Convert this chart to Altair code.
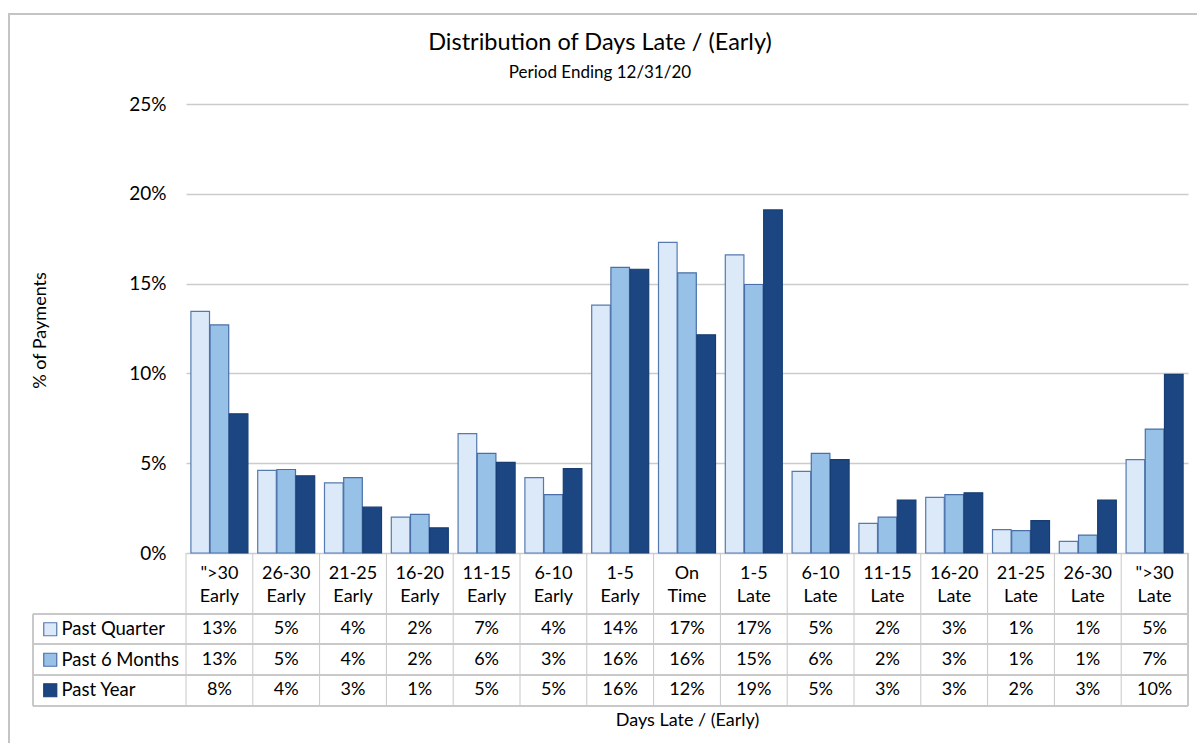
import altair as alt
import pandas as pd

# Payment-timing buckets (label words split onto two lines at the space)
categories = [
    '">30 Early', "26-30 Early", "21-25 Early", "16-20 Early", "11-15 Early",
    "6-10 Early", "1-5 Early", "On Time", "1-5 Late", "6-10 Late",
    "11-15 Late", "16-20 Late", "21-25 Late", "26-30 Late", '">30 Late',
]
series = ["Past Quarter", "Past 6 Months", "Past Year"]

# Share of payments (%) per bucket
past_quarter = [13.45, 4.6, 3.9, 2.0, 6.65, 4.2, 13.8, 17.3, 16.6, 4.55, 1.65, 3.1, 1.3, 0.65, 5.2]
past_6_months = [12.7, 4.65, 4.2, 2.15, 5.55, 3.25, 15.9, 15.6, 14.95, 5.55, 2.0, 3.25, 1.25, 1.0, 6.9]
past_year = [7.75, 4.3, 2.55, 1.4, 5.05, 4.7, 15.8, 12.15, 19.1, 5.2, 2.95, 3.35, 1.8, 2.95, 9.95]

fills = ["#dce9f8", "#97c1e7", "#1c4682"]
strokes = ["#557aaf", "#4a6fa8", "#173d73"]

rows = []
for name, vals in zip(series, [past_quarter, past_6_months, past_year]):
    for cat, v in zip(categories, vals):
        rows.append({"category": cat, "series": name, "value": v})
df = pd.DataFrame(rows)
cat_df = pd.DataFrame({"category": categories})

W, H = 1002, 449
FONT = "Lato"
FS = 18
GRID = "#cccccc"
TABLE = "#c8c8c8"

x_enc = alt.X(
    "category:N",
    sort=categories,
    scale=alt.Scale(paddingInner=0, paddingOuter=0),
    axis=alt.Axis(
        labels=False, ticks=False, domain=False, grid=False,
        title="Days Late / (Early)", titleY=167, titleBaseline="middle",
        titleFontSize=18, titleFontWeight="normal", titleColor="#000000",
    ),
)

bars = alt.Chart(df).mark_bar(strokeWidth=1.2).encode(
    x=x_enc,
    xOffset=alt.XOffset("series:N", sort=series,
                        scale=alt.Scale(paddingInner=0.03, paddingOuter=0.255)),
    y=alt.Y(
        "value:Q",
        scale=alt.Scale(domain=[0, 25], nice=False),
        axis=alt.Axis(
            values=[0, 5, 10, 15, 20, 25], labelExpr="datum.value + '%'",
            grid=True, gridColor=GRID, gridWidth=1.3, domain=False, ticks=False,
            labelFontSize=19, labelPadding=20, labelColor="#000000",
            title="% of Payments", titleFontSize=18, titleFontWeight="normal",
            titleColor="#000000", titleX=-146, titleY=226, titleAngle=-90,
            titleBaseline="middle", titleAlign="center",
        ),
    ),
    color=alt.Color(
        "series:N", sort=series,
        scale=alt.Scale(domain=series, range=fills),
        legend=alt.Legend(
            orient="none", legendX=-145, legendY=516, title=None,
            symbolType="square", symbolSize=169, symbolStrokeColor="#4a6fa8",
            symbolStrokeWidth=1.2, symbolOpacity=1,
            labelFontSize=18.5, labelFont=FONT, labelColor="#000000",
            labelBaseline="middle", labelOffset=2, rowPadding=11.5,
            padding=0, offset=0,
        ),
    ),
    stroke=alt.Stroke("series:N", sort=series,
                      scale=alt.Scale(domain=series, range=strokes), legend=None),
)

# Table: two-line category headers
headers = alt.Chart(cat_df).mark_text(
    lineBreak=" ", lineHeight=23, fontSize=FS, font=FONT, baseline="middle",
    color="#000000",
).encode(x=alt.X("category:N", sort=categories), y=alt.value(470), text="category:N")

# Table: rounded value rows, one per series
row_y = [525, 555.5, 586]
value_rows = []
for name, yy in zip(series, row_y):
    value_rows.append(
        alt.Chart(df).transform_filter(alt.datum.series == name)
        .transform_calculate(label="format(datum.value, '.0f') + '%'")
        .mark_text(fontSize=FS, font=FONT, baseline="middle", color="#000000")
        .encode(x=alt.X("category:N", sort=categories), y=alt.value(yy), text="label:N")
    )

# Table grid lines
vlines = alt.Chart(cat_df).mark_rule(color=TABLE, strokeWidth=1).encode(
    x=alt.X("category:N", sort=categories, bandPosition=0),
    y=alt.value(H), y2=alt.value(602),
)
right_edge = alt.Chart(cat_df).mark_rule(color=TABLE, strokeWidth=1).encode(
    x=alt.value(W), y=alt.value(H), y2=alt.value(602)
)
legend_edge = alt.Chart(cat_df).mark_rule(color=TABLE, strokeWidth=1).encode(
    x=alt.value(-153), y=alt.value(510), y2=alt.value(602)
)
hlines = [
    alt.Chart(cat_df).mark_rule(color=TABLE, strokeWidth=1).encode(
        x=alt.value(-153), x2=alt.value(W), y=alt.value(yy)
    )
    for yy in [510, 540, 571, 602]
]

# Outer chart border
frame = alt.Chart(cat_df).mark_rect(fillOpacity=0, stroke="#c4c4c4", strokeWidth=1.5).encode(
    x=alt.value(-177), x2=alt.value(1100), y=alt.value(-90), y2=alt.value(700)
)

chart = alt.layer(
    frame, vlines, right_edge, legend_edge, *hlines, bars, headers, *value_rows
).properties(
    width=W,
    height=H,
    autosize=alt.AutoSizeParams(type="none"),
    padding={"left": 186, "top": 104, "right": 9, "bottom": 190},
    title=alt.TitleParams(
        text="Distribution of Days Late / (Early)",
        subtitle="Period Ending 12/31/20",
        fontSize=23.5, subtitleFontSize=17, fontWeight="normal",
        font=FONT, subtitleFont=FONT, color="#000000", subtitleColor="#000000",
        anchor="middle", dx=-87, dy=82, offset=14, subtitlePadding=11,
    ),
).configure(font=FONT).configure_view(stroke=None)

chart.save("out.html", embed_options={"renderer": "svg", "actions": False})
